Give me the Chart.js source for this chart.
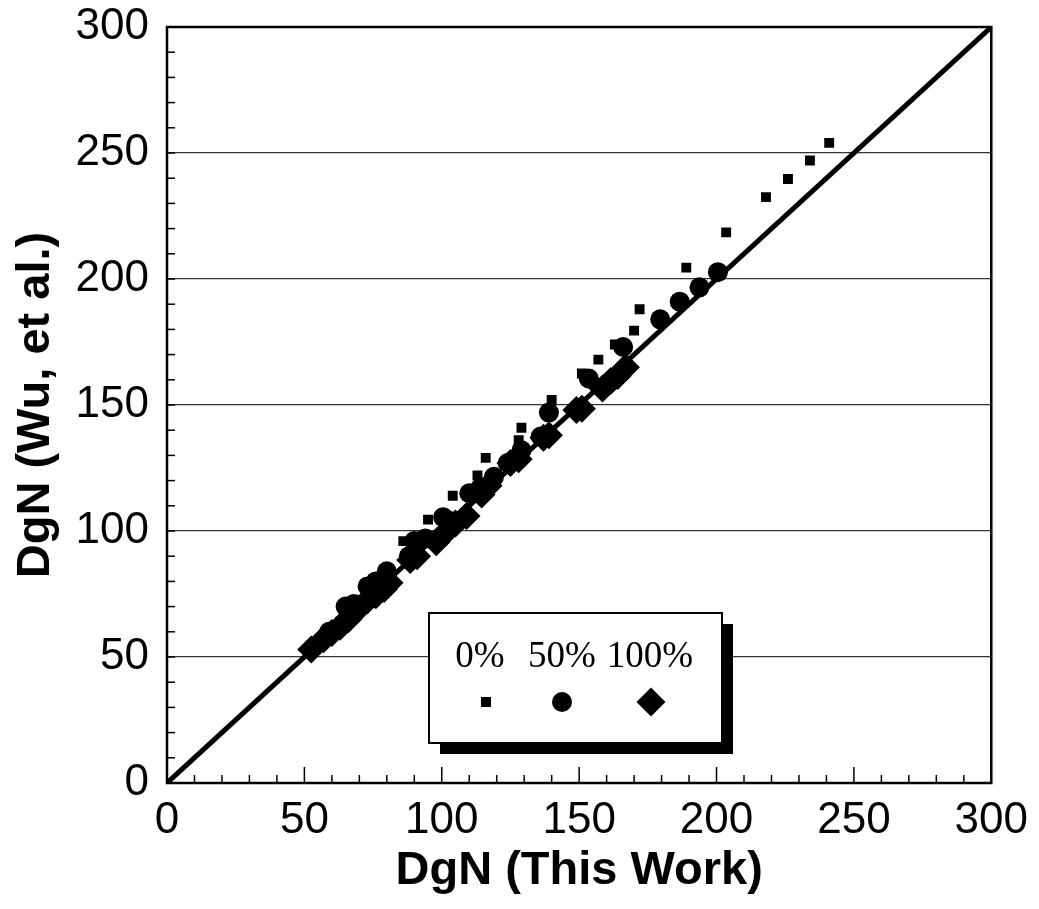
<!DOCTYPE html>
<html>
<head>
<meta charset="utf-8">
<script src="https://cdn.jsdelivr.net/npm/chart.js@4/dist/chart.umd.min.js"></script>
<style>
  html, body { margin: 0; padding: 0; background: #fff; }
</style>
</head>
<body>
<canvas id="myChart" width="1039" height="909"></canvas>
<script>
// DgN (This Work) vs DgN (Wu, et al.)
const pct0 = [
  [63, 64], [70, 72], [76, 79], [86, 96], [95, 104.5], [104, 114], [113, 122],
  [116, 129], [128, 136], [129, 141], [140, 152], [151, 162.5], [157, 168],
  [163, 174], [170, 179.5], [172, 188], [189, 204.5], [203.5, 218.5],
  [218, 232.5], [226, 239.7], [234, 247], [241, 254]
];
const pct50 = [
  [59, 60], [65, 70], [68, 71], [73, 78], [76, 80], [80, 84], [88, 90], [90, 96],
  [94, 97], [100.5, 105.5], [103, 104], [110, 115], [114, 117], [119, 121.5],
  [124, 127], [129, 132], [136, 137.5], [139, 147], [153.5, 160.5], [166, 173],
  [179.5, 184], [186.6, 191], [193.8, 196.7], [200.5, 202.7]
];
const pct100 = [
  [52.5, 53], [57, 57], [60, 59.5], [63, 62], [66, 65], [69, 68.5], [73, 72.5],
  [76, 74.5], [79, 77], [81, 79.5], [88.5, 88.5], [91, 90], [98, 95.5], [101, 99],
  [105, 103], [109, 106], [114.5, 114.5], [117, 118], [125, 127], [128, 128.5],
  [137, 137], [139, 138], [149, 148], [151, 148.5], [158.5, 156.5], [161.5, 159.5],
  [164, 161.5], [167, 165]
];
const parityLine = [0, 300];
const legendLabels = ['0%', '50%', '100%'];

const toPts = arr => arr.map(p => ({ x: p[0], y: p[1] }));

// frame, inward minor ticks
const frameTicks = {
  id: 'frameTicks',
  afterDatasetsDraw(chart) {
    const { ctx, chartArea: a, scales: { x, y } } = chart;
    ctx.save();
    ctx.strokeStyle = '#000';
    ctx.lineWidth = 1.5;
    for (let v = 10; v < 300; v += 10) {
      const len = v % 50 === 0 ? 16 : 8;
      const px = x.getPixelForValue(v);
      ctx.beginPath();
      ctx.moveTo(px, a.bottom);
      ctx.lineTo(px, a.bottom - len);
      ctx.stroke();
      const py = y.getPixelForValue(v);
      ctx.beginPath();
      ctx.moveTo(a.left, py);
      ctx.lineTo(a.left + 8, py);
      ctx.stroke();
    }
    ctx.lineWidth = 2.5;
    ctx.strokeRect(a.left, a.top, a.right - a.left, a.bottom - a.top);
    ctx.restore();
  }
};

// legend box with drop shadow
const boxLegend = {
  id: 'boxLegend',
  afterDraw(chart) {
    const { ctx } = chart;
    const bx = 429, by = 613, bw = 293, bh = 130;
    ctx.save();
    ctx.fillStyle = '#000';
    ctx.fillRect(bx + 11, by + 11, bw, bh);
    ctx.fillStyle = '#fff';
    ctx.fillRect(bx, by, bw, bh);
    ctx.strokeStyle = '#000';
    ctx.lineWidth = 2;
    ctx.strokeRect(bx, by, bw, bh);
    ctx.fillStyle = '#000';
    ctx.font = '37px "Liberation Serif", "Times New Roman", serif';
    ctx.textAlign = 'center';
    ctx.textBaseline = 'alphabetic';
    const cx = [480, 562, 650];
    legendLabels.forEach((t, i) => ctx.fillText(t, cx[i], 667));
    const my = 702;
    ctx.fillRect(cx[0] + 1, my - 5, 10, 10);
    ctx.beginPath();
    ctx.arc(cx[1], my, 10, 0, Math.PI * 2);
    ctx.fill();
    ctx.beginPath();
    ctx.moveTo(cx[2] + 1, my - 14.5);
    ctx.lineTo(cx[2] + 15.5, my);
    ctx.lineTo(cx[2] + 1, my + 14.5);
    ctx.lineTo(cx[2] - 13.5, my);
    ctx.closePath();
    ctx.fill();
    ctx.restore();
  }
};

const tickFont = { family: '"Liberation Sans", Arial, sans-serif', size: 44 };
const titleFont = { family: '"Liberation Sans", Arial, sans-serif', size: 47, weight: 'bold' };

new Chart(document.getElementById('myChart'), {
  type: 'scatter',
  data: {
    datasets: [
      {
        label: legendLabels[0],
        data: toPts(pct0),
        pointStyle: 'rect',
        pointRadius: 7,
        backgroundColor: '#000',
        borderWidth: 0
      },
      {
        label: legendLabels[1],
        data: toPts(pct50),
        pointStyle: 'circle',
        pointRadius: 10,
        backgroundColor: '#000',
        borderWidth: 0
      },
      {
        label: legendLabels[2],
        data: toPts(pct100),
        pointStyle: 'rectRot',
        pointRadius: 14,
        backgroundColor: '#000',
        borderWidth: 0
      },
      {
        type: 'line',
        label: 'y = x',
        data: parityLine.map(v => ({ x: v, y: v })),
        borderColor: '#000',
        borderWidth: 5,
        pointRadius: 0,
        fill: false
      }
    ]
  },
  options: {
    responsive: false,
    animation: false,
    layout: { padding: { top: 0, right: 46, left: 0, bottom: 0 } },
    plugins: {
      legend: { display: false },
      tooltip: { enabled: false }
    },
    scales: {
      x: {
        type: 'linear',
        min: 0,
        max: 300,
        afterFit: s => { s.height = 126; },
        ticks: { stepSize: 50, color: '#000', font: tickFont, padding: 11, maxRotation: 0 },
        grid: { display: false, drawTicks: false },
        border: { display: false },
        title: { display: true, text: 'DgN (This Work)', color: '#000', font: titleFont, padding: { top: 0, bottom: 10 } }
      },
      y: {
        type: 'linear',
        min: 0,
        max: 300,
        afterFit: s => { s.width = 167; s.paddingTop = 27; },
        ticks: { stepSize: 50, color: '#000', font: tickFont, padding: 18 },
        grid: {
          drawTicks: false,
          color: ctx => (ctx.tick && ctx.tick.value > 0 && ctx.tick.value < 300) ? '#333' : 'rgba(0,0,0,0)',
          lineWidth: 1.2
        },
        border: { display: false },
        title: { display: true, text: 'DgN (Wu, et al.)', color: '#000', font: titleFont, padding: { top: 8, bottom: 0 } }
      }
    }
  },
  plugins: [frameTicks, boxLegend]
});
</script>
</body>
</html>
